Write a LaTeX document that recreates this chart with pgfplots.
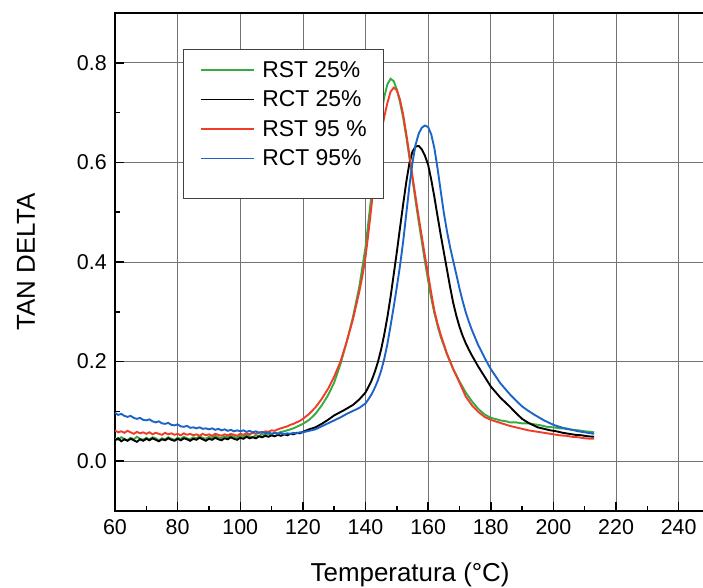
\documentclass[border=0pt]{standalone}
\usepackage{fontspec}
\setmainfont{Liberation Sans}
\usepackage{pgfplots}
\pgfplotsset{compat=1.18}
\definecolor{cgreen}{RGB}{55,170,65}
\definecolor{cred}{RGB}{240,60,40}
\definecolor{cblue}{RGB}{30,100,200}
\begin{document}
\begin{tikzpicture}
\path[use as bounding box] (-115bp,-77bp) rectangle (588bp,511bp);
\begin{axis}[
  scale only axis, width=595bp, height=498bp,
  xmin=60, xmax=250, ymin=-0.1, ymax=0.9,
  xtick={60,80,...,240}, ytick={0,0.2,0.4,0.6,0.8},
  minor x tick num=1, minor y tick num=1,
  xtick pos=left, ytick pos=left,
  tick align=inside, major tick length=9bp, minor tick length=5bp,
  tick style={line width=1.5bp, black},
  axis line style={line width=2bp},
  grid=major, major grid style={black!55, line width=0.7bp},
  /pgf/number format/assume math mode=true,
  ticklabel style={font=\fontsize{21.5}{24}\selectfont},
  yticklabel style={/pgf/number format/.cd, fixed, fixed zerofill, precision=1, /tikz/.cd, xshift=-4.8bp},
  xticklabel style={yshift=-5bp},
  xlabel={Temperatura (°C)}, ylabel={TAN DELTA},
  label style={font=\fontsize{26}{30}\selectfont},
  xlabel style={at={(axis description cs:0.496,-0.1406)}, anchor=base},
  ylabel style={at={(axis description cs:-0.1345,0.5)}, anchor=base, rotate=0},
  legend style={at={(0.1143,0.928)}, anchor=north west, draw=black!75, line width=0.8bp,
    font=\fontsize{23}{26}\selectfont, inner xsep=13bp, inner ysep=10bp, row sep=8bp,
    nodes={inner ysep=2bp, inner xsep=4bp}},
  legend cell align=left,
  legend image code/.code={\path (0bp,0bp) (60bp,0bp); \draw[#1, line width=1.9bp] (4bp,0bp) -- (57bp,0bp);},
  every axis plot/.append style={line width=1.9bp},
]
\addplot[cgreen] coordinates {
(60,.046)(61,.043)(62,.048)(63,.045)(64,.042)(65,.047)(66,.044)(67,.049)(68,.045)(69,.043)
(70,.047)(71,.044)(72,.048)(73,.046)(74,.042)(75,.046)(76,.044)(77,.048)(78,.045)(79,.043)
(80,.047)(81,.045)(82,.049)(83,.046)(84,.044)(85,.048)(86,.046)(87,.050)(88,.047)(89,.045)
(90,.049)(91,.047)(92,.051)(93,.048)(94,.046)(95,.050)(96,.048)(97,.052)(98,.049)(99,.047)
(100,.051)(101,.049)(102,.053)(103,.050)(104,.048)(105,.052)(106,.051)(107,.054)(108,.052)(109,.055)
(110,.054)(111,.057)(112,.056)(113,.059)(114,.060)(115,.062)(116,.064)(117,.066)(118,.069)(119,.072)
(120,.075)(122,.083)(124,.095)(126,.112)(128,.132)(130,.158)(132,.195)(134,.240)(136,.290)(138,.350)
(139,.390)(140,.430)(141,.485)(142,.540)(143,.595)(144,.648)(145,.695)(146,.732)(147,.757)(148,.768)
(149,.763)(150,.746)(151,.721)(152,.690)(153,.652)(154,.610)(155,.566)(156,.522)(157,.480)(158,.440)
(159,.400)(160,.362)(161,.327)(162,.297)(163,.272)(164,.250)(166,.215)(168,.185)(170,.160)(172,.138)
(174,.120)(176,.105)(178,.094)(180,.087)(182,.084)(183,.082)(185,.080)(186,.078)(188,.078)(190,.076)
(192,.076)(194,.074)(196,.072)(198,.069)(200,.068)(202,.066)(204,.066)(206,.063)(208,.062)(210,.060)
(212,.059)(213,.058)};
\addlegendentry{RST 25\%}
\addplot[black] coordinates {
(60,.042)(61,.046)(62,.040)(63,.044)(64,.041)(65,.045)(66,.042)(67,.039)(68,.044)(69,.041)
(70,.045)(71,.042)(72,.046)(73,.043)(74,.040)(75,.044)(76,.042)(77,.046)(78,.043)(79,.041)
(80,.045)(81,.042)(82,.046)(83,.044)(84,.041)(85,.045)(86,.043)(87,.047)(88,.044)(89,.041)
(90,.045)(91,.043)(92,.047)(93,.044)(94,.042)(95,.046)(96,.044)(97,.048)(98,.045)(99,.043)
(100,.047)(101,.045)(102,.049)(103,.046)(104,.048)(105,.046)(106,.050)(107,.048)(108,.051)(109,.049)
(110,.052)(111,.050)(112,.053)(113,.051)(114,.054)(115,.052)(116,.055)(117,.054)(118,.057)(119,.056)
(120,.059)(122,.064)(124,.068)(126,.075)(128,.083)(130,.092)(133,.102)(136,.113)(138,.124)(140,.138)
(141,.150)(142,.163)(143,.180)(144,.200)(145,.225)(146,.255)(147,.290)(148,.330)(149,.375)(150,.420)
(151,.468)(152,.515)(153,.560)(154,.598)(155,.622)(156,.632)(157,.633)(158,.626)(159,.613)(160,.595)
(161,.565)(162,.530)(163,.492)(164,.455)(165,.420)(166,.385)(167,.350)(168,.318)(169,.292)(170,.270)
(171,.252)(172,.237)(173,.224)(174,.212)(175,.201)(176,.190)(178,.170)(180,.150)(183,.128)(186,.110)
(188,.097)(190,.085)(192,.077)(195,.068)(197,.065)(199,.062)(201,.060)(203,.057)(205,.055)(207,.053)
(209,.052)(211,.050)(213,.049)};
\addlegendentry{RCT 25\%}
\addplot[cred] coordinates {
(60,.062)(61,.058)(62,.060)(63,.057)(64,.061)(65,.058)(66,.055)(67,.059)(68,.056)(69,.058)
(70,.055)(71,.058)(72,.054)(73,.057)(74,.055)(75,.053)(76,.057)(77,.054)(78,.056)(79,.053)
(80,.055)(81,.052)(82,.056)(83,.053)(84,.055)(85,.052)(86,.054)(87,.051)(88,.055)(89,.052)
(90,.054)(91,.051)(92,.055)(93,.053)(94,.051)(95,.054)(96,.052)(97,.055)(98,.053)(99,.051)
(100,.055)(101,.053)(102,.056)(103,.054)(104,.057)(105,.055)(106,.058)(107,.057)(108,.060)(109,.059)
(110,.062)(111,.061)(112,.064)(113,.066)(114,.068)(115,.070)(116,.073)(117,.075)(118,.078)(119,.081)
(120,.085)(122,.095)(124,.108)(126,.125)(128,.145)(130,.170)(132,.200)(134,.240)(136,.285)(138,.340)
(139,.372)(140,.410)(141,.462)(142,.518)(143,.572)(144,.620)(145,.660)(146,.692)(147,.720)(148,.742)
(149,.750)(150,.745)(151,.726)(152,.697)(153,.658)(154,.616)(155,.572)(156,.530)(157,.489)(158,.450)
(159,.411)(160,.375)(161,.337)(162,.302)(163,.276)(164,.254)(166,.216)(168,.185)(170,.158)(172,.130)
(174,.112)(176,.099)(178,.089)(180,.083)(183,.077)(186,.071)(188,.068)(190,.065)(192,.062)(194,.060)
(196,.058)(198,.056)(200,.054)(202,.052)(204,.051)(206,.049)(208,.048)(210,.046)(212,.045)(213,.045)};
\addlegendentry{RST 95 \%}
\addplot[cblue] coordinates {
(60,.097)(61,.093)(62,.095)(63,.091)(64,.089)(65,.091)(66,.087)(67,.085)(68,.087)(69,.083)
(70,.082)(71,.084)(72,.080)(73,.078)(74,.080)(75,.076)(76,.075)(77,.077)(78,.073)(79,.072)
(80,.074)(81,.070)(82,.069)(83,.071)(84,.067)(85,.068)(86,.066)(87,.068)(88,.065)(89,.066)
(90,.064)(91,.066)(92,.063)(93,.065)(94,.062)(95,.064)(96,.061)(97,.063)(98,.060)(99,.062)
(100,.060)(101,.062)(102,.059)(103,.061)(104,.058)(105,.060)(106,.057)(107,.059)(108,.056)(109,.058)
(110,.055)(111,.057)(112,.055)(113,.057)(114,.054)(115,.056)(116,.055)(117,.057)(118,.056)(119,.058)
(120,.058)(122,.061)(124,.064)(126,.070)(128,.076)(130,.082)(132,.088)(134,.095)(136,.101)(138,.107)
(140,.116)(141,.125)(142,.135)(143,.148)(144,.163)(145,.182)(146,.206)(147,.236)(148,.272)(149,.310)
(150,.350)(151,.392)(152,.440)(153,.496)(154,.552)(155,.600)(156,.636)(157,.658)(158,.670)(159,.674)
(160,.671)(161,.656)(162,.628)(163,.588)(164,.543)(165,.499)(166,.462)(167,.430)(168,.402)(169,.375)
(170,.347)(171,.322)(172,.299)(173,.280)(174,.263)(176,.233)(178,.208)(180,.185)(183,.157)(186,.135)
(188,.122)(190,.110)(192,.101)(194,.093)(197,.082)(200,.073)(202,.069)(204,.065)(206,.063)(208,.060)
(210,.058)(213,.055)};
\addlegendentry{RCT 95\%}
\addlegendimage{empty legend}
\addlegendentry{\rule{0pt}{6bp}}
\end{axis}
\end{tikzpicture}
\end{document}
